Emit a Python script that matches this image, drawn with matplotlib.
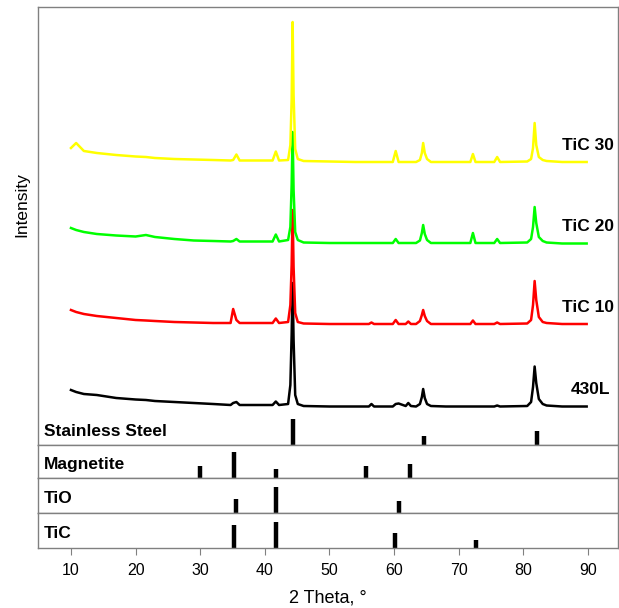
import matplotlib
matplotlib.use('Agg')
import matplotlib.pyplot as plt

plt.rcParams['font.family'] = ['Liberation Sans', 'DejaVu Sans']

# ==================== 数据 ====================
TWO_THETA = [10, 10.8, 12, 14, 17, 20, 21.6, 23, 26, 29,
             32, 34.7, 35.1, 35.6, 36.1, 41.2, 41.7, 42.2, 43.6, 43.95,
             44.15, 44.3, 44.45, 44.7, 45.1, 46, 50, 54, 56.1, 56.5,
             56.9, 59.8, 60.25, 60.7, 61.8, 62.2, 62.6, 63.4, 64.0, 64.3,
             64.5, 64.75, 65.1, 65.7, 68, 71.8, 72.2, 72.6, 75.5, 75.95,
             76.4, 80.6, 81.2, 81.5, 81.75, 82.0, 82.4, 83.0, 83.6, 86,
             89.8]

# 强度(已含纵向偏移)
I_430L = [55, 53, 51, 50, 47, 45.5, 45, 44, 43, 42,
          41, 40, 42, 43, 40, 40, 43.5, 40, 41, 60,
          110, 162, 105, 50, 41, 39, 38.5, 38.5, 38.5, 41,
          38.5, 38.5, 41, 41.5, 39, 42, 39, 38.5, 41, 48,
          56, 47, 41, 39, 38.5, 38.5, 38.5, 38.5, 38.5, 39.5,
          38.5, 39, 43, 58, 78.5, 62, 46, 41, 39.5, 38.5,
          38.5]
I_TIC10 = [135, 133, 131, 129, 127, 125, 124.5, 124, 123, 122.5,
           122, 122, 136, 125, 122, 122, 126.5, 122, 123, 140,
           180, 235, 178, 132, 123, 121.5, 121, 121, 121, 122.5,
           121, 121, 125, 121, 121, 123.5, 121, 121, 124, 130,
           135, 129, 124, 121, 121, 121, 124.5, 121, 121, 122.5,
           121, 121.5, 125, 140, 164, 145, 128, 123, 122, 121,
           121]
I_TIC20 = [217, 215, 213, 211, 209.5, 208.5, 210, 208, 206, 204.5,
           204, 203.5, 204, 206, 203.5, 203.5, 210.5, 203.5, 205, 218,
           260, 313, 255, 213, 205, 202.5, 202, 202, 202, 202,
           202, 202, 206, 202, 202, 202, 202, 202, 204.5, 212,
           220, 211, 205, 202, 202, 202, 212, 202, 202, 206,
           202, 202.5, 206, 218, 238, 222, 208, 204, 202.5, 201.5,
           201.5]
I_TIC30 = [297, 302, 294, 292, 290, 288.5, 288, 287, 286, 285.5,
           285, 284.5, 285, 290.5, 284.5, 284.5, 293.5, 284.5, 285, 300,
           345, 423, 350, 296, 286, 284, 283.5, 283, 283, 283,
           283, 283, 294, 283, 283, 283, 283, 283, 285, 292,
           302, 292, 286, 283, 283, 283, 291, 283, 283, 288,
           283, 283.5, 286, 297, 322, 300, 288, 285, 284, 283,
           283]

SERIES = [
    ("430L",   I_430L,  "black"),
    ("TiC 10", I_TIC10, "#ff0000"),
    ("TiC 20", I_TIC20, "#00ff00"),
    ("TiC 30", I_TIC30, "#ffff00"),
]

# 标准卡片 (位置, 相对强度)
SS_POS,  SS_INT  = [44.3, 64.7, 82.1], [100, 35, 54]
MAG_POS, MAG_INT = [30.0, 35.2, 41.8, 55.6, 62.5], [46, 100, 35, 46, 54]
TIO_POS, TIO_INT = [35.6, 41.8, 60.7], [54, 100, 46]
TIC_POS, TIC_INT = [35.3, 41.8, 60.1, 72.7], [88, 100, 58, 31]

REF_PANELS = [
    ("Magnetite", MAG_POS, MAG_INT),
    ("TiO",       TIO_POS, TIO_INT),
    ("TiC",       TIC_POS, TIC_INT),
]

XTICKS = [10, 20, 30, 40, 50, 60, 70, 80, 90]

# ==================== 绘图 ====================
FRAME = '#808080'
XLIM = (4.9, 94.65)
STICK_H = 26     # 最强线高度(像素, 与主图纵轴同单位)

fig = plt.figure(figsize=(6.19, 6.08), dpi=100)
W, H = 619, 608


def rect(top, bottom, left=38, right=618):
    return [left / W, 1 - bottom / H, (right - left) / W, (bottom - top) / H]


def style(ax):
    ax.set_xlim(*XLIM)
    for sp in ax.spines.values():
        sp.set_color(FRAME)
        sp.set_linewidth(1.0)
    ax.set_yticks([])
    ax.set_xticks([])


ax = fig.add_axes(rect(7, 445))
style(ax)
ax.set_ylim(0, 438)
for name, inten, color in SERIES:
    ax.plot(TWO_THETA, inten, color=color, lw=1.8)
    ax.text(94.0 if name != "430L" else 93.4, inten[-1] + 17, name,
            ha='right', va='center', fontsize=12.5, fontweight='bold')

ax.vlines(SS_POS, 0, [v / 100 * STICK_H for v in SS_INT], color='black', lw=3.2)
ax.text(5.8, 13, "Stainless Steel", ha='left', va='center',
        fontsize=12.5, fontweight='bold')
fig.text(21.5 / W, 1 - 205 / H, "Intensity", rotation=90,
         ha='center', va='center', fontsize=12.5)

tops = [445, 478, 513]
bots = [478, 513, 548]
for (name, pos, inten), t, b in zip(REF_PANELS, tops, bots):
    a = fig.add_axes(rect(t, b))
    style(a)
    a.set_ylim(0, b - t)
    a.vlines(pos, 0, [v / 100 * STICK_H for v in inten], color='black', lw=3.2)
    a.text(5.8, (b - t) * 0.42, name, ha='left', va='center',
           fontsize=12.5, fontweight='bold')

a.set_xticks(XTICKS)
a.tick_params(axis='x', direction='out', length=5, color=FRAME,
              labelsize=11.5, pad=6)
a.set_xlabel("2 Theta, \u00b0", fontsize=13, labelpad=8)

fig.savefig('out.png', dpi=100)
